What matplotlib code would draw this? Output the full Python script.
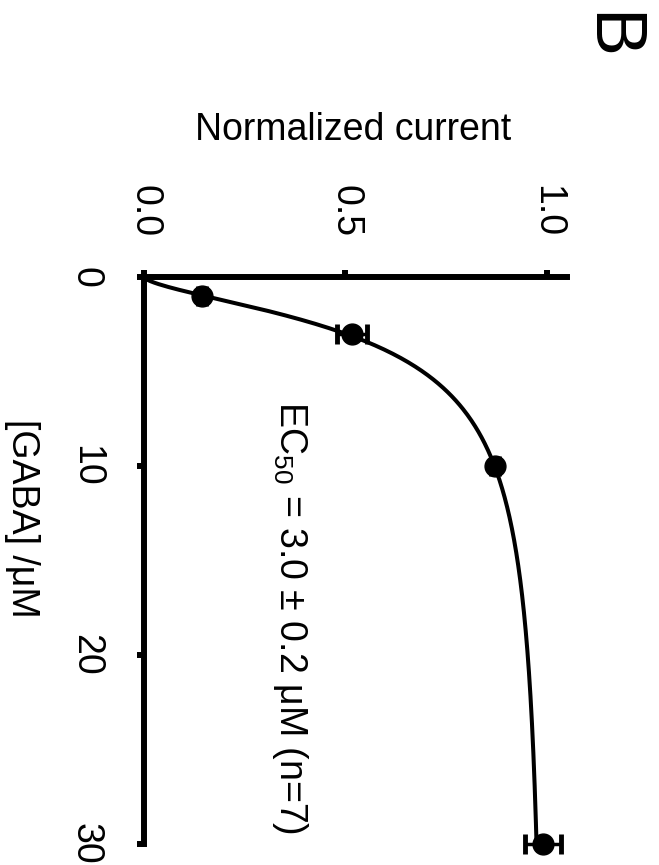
import matplotlib.pyplot as plt
import numpy as np

plt.rcParams['font.family'] = ['Liberation Sans', 'DejaVu Sans']
plt.rcParams['mathtext.default'] = 'regular'

# dose-response data (figure is drawn rotated 90 deg clockwise)
gaba = [1, 3, 10, 30]
current = [0.144, 0.516, 0.871, 0.99]
current_err = [0.01, 0.037, 0.01, 0.045]
gaba_ticks = [0, 10, 20, 30]
current_ticks = [0.0, 0.5, 1.0]
current_ticklabels = ['0.0', '0.5', '1.0']

# Hill fit parameters
ec50 = 3.0
hill_n = 1.58

W, H = 659, 865
fig = plt.figure(figsize=(W / 100, H / 100), dpi=100)
ax = fig.add_axes([144 / W, 1 - 844 / H, (567 - 144) / W, (844 - 277) / H])

conc = np.linspace(0, 30, 400)
fit = conc**hill_n / (ec50**hill_n + conc**hill_n)
ax.plot(fit, conc, color='black', lw=2.9, clip_on=False, zorder=3)

eb = ax.errorbar(current, gaba, xerr=current_err, fmt='o', color='black',
                 ms=15, elinewidth=2.5, capsize=7, capthick=3.5, zorder=4)
eb[0].set_clip_on(False)
for a in eb[1]:
    a.set_clip_on(False)
for a in eb[2]:
    a.set_clip_on(False)

ax.set_xlim(0, 1.05)
ax.set_ylim(30, 0)

for s in ['right', 'bottom']:
    ax.spines[s].set_visible(False)
for s in ['top', 'left']:
    ax.spines[s].set_linewidth(4.3)

ax.xaxis.tick_top()
ax.set_xticks(current_ticks)
ax.set_xticklabels(current_ticklabels)
ax.set_yticks(gaba_ticks)
ax.tick_params(axis='both', direction='out', length=5, width=4.3, pad=24,
               labelsize=27, labelrotation=-90)
plt.setp(ax.get_yticklabels(), va='center')

fig.text(353 / W, 1 - 130 / H, 'Normalized current', ha='center', va='center', size=27)
fig.text(22 / W, 1 - 518 / H, '[GABA] /μM', rotation=-90, ha='center', va='center', size=27)
fig.text(290 / W, 1 - 618 / H, 'EC$_{50}$ = 3.0 ± 0.2 μM (n=7)', rotation=-90,
         ha='center', va='center', size=27)
fig.text(609 / W, 1 - 36 / H, 'B', rotation=-90, ha='center', va='center', size=52)

fig.savefig('out.png', dpi=100)
